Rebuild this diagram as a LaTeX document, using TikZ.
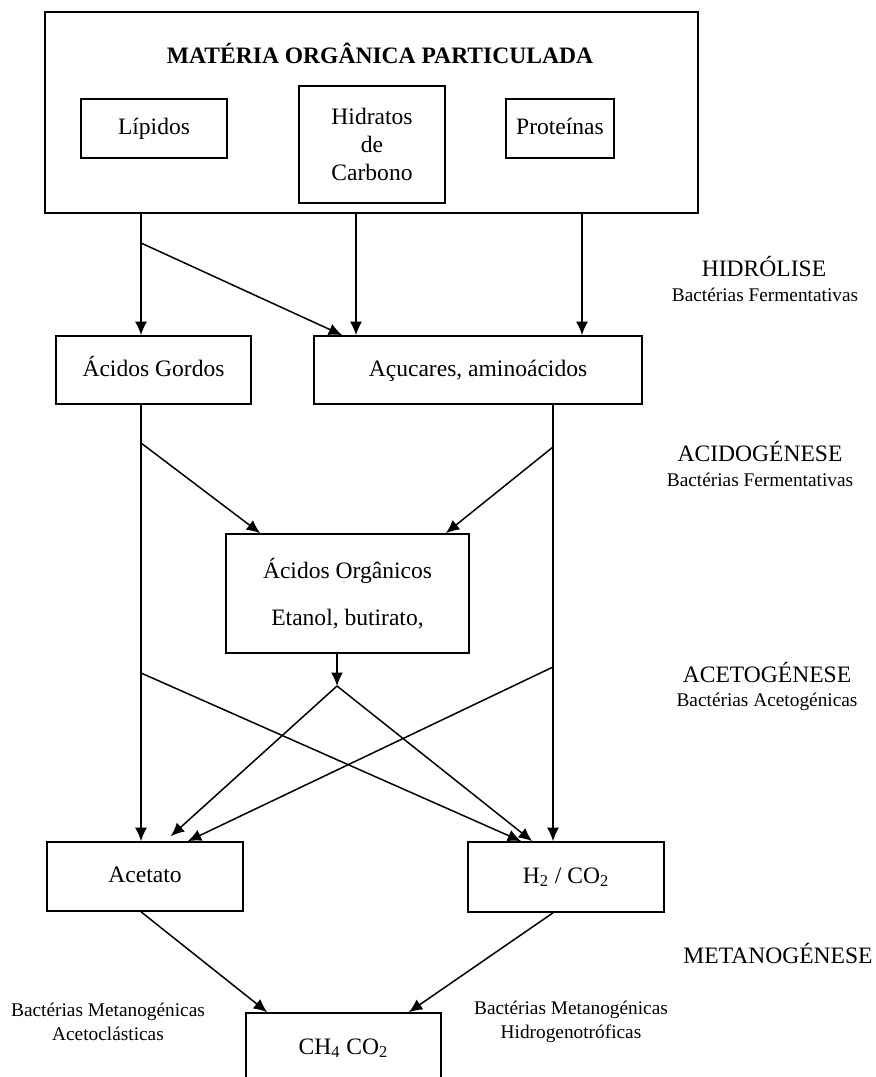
\documentclass[tikz,border=0pt]{standalone}
\usepackage{fontspec}
\setmainfont{Liberation Serif}
\usetikzlibrary{arrows.meta}

\tikzset{
  caixa/.style={draw,line width=0.9pt,inner sep=0pt,align=center,font=\fontsize{13.4pt}{16pt}\selectfont},
  caixaum/.style={caixa,text height=10pt,text depth=3pt},
  fase/.style={inner sep=0pt,font=\fontsize{13.4pt}{16pt}\selectfont},
  bact/.style={inner sep=0pt,align=center,font=\fontsize{11pt}{14pt}\selectfont},
  seta/.style={line width=0.85pt,-{Latex[length=2.7mm,width=2.4mm]}},
  linha/.style={line width=0.85pt}
}

\begin{document}
\begin{tikzpicture}[x=0.2mm,y=-0.2mm]
\clip (0,0) rectangle (875,1077);
% outer box
\node[caixa,minimum width=130.6mm,minimum height=40.2mm] (mop) at (371.5,112.5) {};
\node[fase,font=\fontsize{13.4pt}{16pt}\selectfont\bfseries] (titulo) at (380,53) {MATÉRIA ORGÂNICA PARTICULADA};
\node[caixaum,minimum width=29.2mm,minimum height=11.8mm] (lip) at (154,128.5) {Lípidos};
\node[caixa,minimum width=29.2mm,minimum height=23.4mm] (hid) at (372,144.5) {Hidratos\\de\\Carbono};
\node[caixaum,minimum width=21.6mm,minimum height=11.8mm] (prot) at (560,128.5) {Proteínas};
% middle boxes
\node[caixaum,minimum width=39mm,minimum height=13.6mm] (gordos) at (153.5,370) {Ácidos Gordos};
\node[caixaum,minimum width=65.6mm,minimum height=13.6mm] (acu) at (478,370) {Açucares, aminoácidos};
\node[caixa,minimum width=48.6mm,minimum height=23.8mm] (org) at (347.5,593.5) {Ácidos Orgânicos\\[3.8mm]Etanol, butirato,};
% lower boxes
\node[caixaum,minimum width=39.2mm,minimum height=13.8mm] (acet) at (145,876.5) {Acetato};
\node[caixaum,minimum width=39.2mm,minimum height=14mm] (h2) at (566,877) {H\textsubscript{2} / CO\textsubscript{2}};
\node[caixaum,minimum width=39mm,minimum height=14mm] (ch4) at (343.5,1048) {CH\textsubscript{4} CO\textsubscript{2}};
% phase labels
\node[fase] (hidro) at (764,267) {HIDRÓLISE};
\node[bact] (hidrob) at (765,295) {Bactérias Fermentativas};
\node[fase] (acido) at (760,452) {ACIDOGÉNESE};
\node[bact] (acidob) at (760,480) {Bactérias Fermentativas};
\node[fase] (aceto) at (767,673) {ACETOGÉNESE};
\node[bact] (acetob) at (767,702) {Bactérias Acetogénicas};
\node[fase] (metano) at (778,953) {METANOGÉNESE};
\node[bact] (metaA) at (108,1022) {Bactérias Metanogénicas\\Acetoclásticas};
\node[bact] (metaH) at (571,1022) {Bactérias Metanogénicas\\Hidrogenotróficas};
% columns and branch points
\coordinate (colA) at (141,0);
\coordinate (colB) at (356,0);
\coordinate (colC) at (582,0);
\coordinate (colD) at (553,0);
\coordinate (colE) at (337,0);
\coordinate (r1) at (141,243);
\coordinate (r2) at (141,443);
\coordinate (r3) at (553,447);
\coordinate (r4) at (141,673);
\coordinate (r5) at (553,667);
\coordinate (junta) at (337,686);
% hidrolise
\draw[seta] (colA |- mop.south) -- (colA |- gordos.north);
\draw[seta] (colB |- mop.south) -- (colB |- acu.north);
\draw[seta] (colC |- mop.south) -- (colC |- acu.north);
\draw[seta] (r1) -- ([xshift=5.8mm]acu.north west);
% acidogenese
\draw[seta] (colA |- gordos.south) -- (colA |- acet.north);
\draw[seta] (colD |- acu.south) -- (colD |- h2.north);
\draw[seta] (r2) -- ([xshift=7mm]org.north west);
\draw[seta] (r3) -- ([xshift=-4.8mm]org.north east);
% acetogenese
\draw[seta] (colE |- org.south) -- (junta);
\draw[seta] (junta) -- ([xshift=-14.6mm,yshift=1mm]acet.north east);
\draw[seta] (junta) -- ([xshift=13mm]h2.north west);
\draw[seta] (r4) -- ([xshift=10.8mm]h2.north west);
\draw[seta] (r5) -- ([xshift=-11.2mm]acet.north east);
% metanogenese
\draw[seta] (colA |- acet.south) -- ([xshift=4.4mm]ch4.north west);
\draw[seta] (colD |- h2.south) -- ([xshift=-6.6mm]ch4.north east);
\end{tikzpicture}
\end{document}
